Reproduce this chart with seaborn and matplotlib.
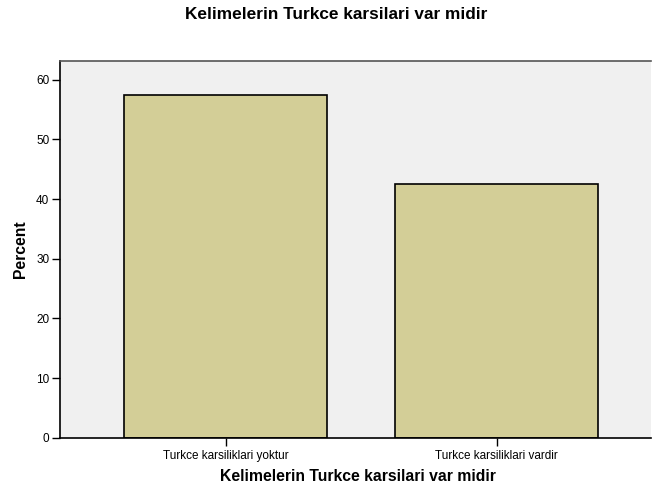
import numpy as np
import pandas as pd
import matplotlib
matplotlib.use("Agg")
import matplotlib.pyplot as plt
import seaborn as sns

# データ
categories = ["Turkce karsiliklari yoktur", "Turkce karsiliklari vardir"]
percent = [57.5, 42.5]
yticks = [0, 10, 20, 30, 40, 50, 60]
title = "Kelimelerin Turkce karsilari var midir"

df = pd.DataFrame({"cat": categories, "pct": percent})

sns.set_style("white")
plt.rcParams["font.family"] = ["Liberation Sans", "DejaVu Sans"]
plt.rcParams["text.color"] = "black"
plt.rcParams["axes.labelcolor"] = "black"
plt.rcParams["xtick.color"] = "black"
plt.rcParams["ytick.color"] = "black"

fig = plt.figure(figsize=(6.53, 4.9), dpi=100)
ax = fig.add_axes([0.0914, 0.1067, 0.9056, 0.7694])
ax.set_facecolor("#F0F0F0")

sns.barplot(data=df, x="cat", y="pct", color="#D3CE97", saturation=1,
            edgecolor="black", linewidth=1.2, width=0.75, ax=ax)

ax.set_xlim(-0.6125, 1.569)
ax.set_ylim(0, 63.2)
ax.set_yticks(yticks)
ax.tick_params(axis="both", direction="out", length=5.5, width=1, color="black",
               labelsize=8.5, pad=2, bottom=True, left=True)
ax.tick_params(axis="x", pad=3)

for s in ["left", "bottom"]:
    ax.spines[s].set_color("black")
    ax.spines[s].set_linewidth(1.2)
ax.spines["top"].set_color("#555555")
ax.spines["top"].set_linewidth(1.2)
ax.spines["right"].set_visible(False)

ax.set_xlabel(title, fontsize=11.3, fontweight="bold")
ax.xaxis.set_label_coords(0.5045, -0.083, transform=ax.transAxes)
ax.xaxis.label.set_va("top")
ax.set_ylabel("Percent", fontsize=11.3, fontweight="bold", labelpad=6)
fig.suptitle(title, fontsize=12.4, fontweight="bold", x=0.515, y=0.985)

fig.savefig("out.png", dpi=100)
